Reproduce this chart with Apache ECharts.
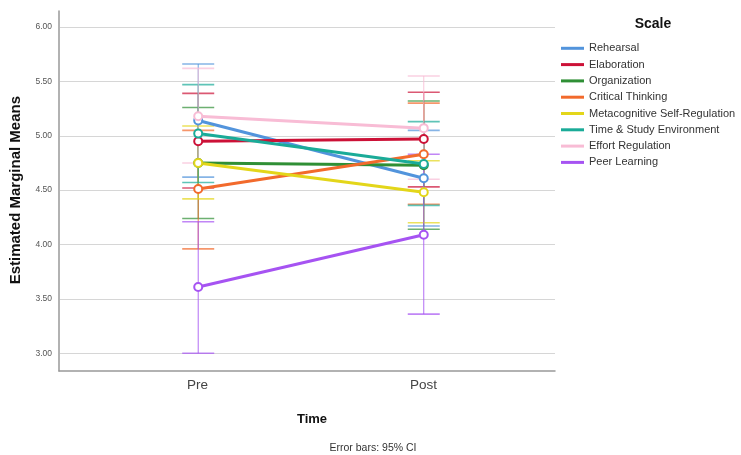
<!DOCTYPE html>
<html>
<head>
<meta charset="utf-8">
<script src="https://cdn.jsdelivr.net/npm/echarts@6/dist/echarts.min.js"></script>
<style>
  html, body { margin: 0; padding: 0; background: #fff; }
  #chart { width: 741px; height: 455px; }
</style>
</head>
<body>
<div id="chart"></div>
<script>
// Time points on the horizontal axis
const categories = ['Pre', 'Post'];

// MSLQ scales, one line per scale
const scales = [
  'Rehearsal',
  'Elaboration',
  'Organization',
  'Critical Thinking',
  'Metacognitive Self-Regulation',
  'Time & Study Environment',
  'Effort Regulation',
  'Peer Learning'
];

// Estimated marginal means
const preMean  = [5.14, 4.95, 4.75, 4.51, 4.75, 5.02, 5.18, 3.61];
const postMean = [4.61, 4.97, 4.73, 4.83, 4.48, 4.74, 5.07, 4.09];

// 95% confidence intervals
const preLow   = [4.62, 4.52, 4.24, 3.96, 4.42, 4.57, 4.75, 3.00];
const preHigh  = [5.66, 5.39, 5.26, 5.05, 5.09, 5.47, 5.62, 4.21];
const postLow  = [4.17, 4.53, 4.14, 4.37, 4.20, 4.36, 4.60, 3.36];
const postHigh = [5.05, 5.40, 5.32, 5.30, 4.77, 5.13, 5.55, 4.83];

// Y axis ticks
const yTicks = { min: 3, max: 6, step: 0.5 };

const palette = [
  '#5294dc', '#cc1137', '#2f8f35', '#f26a2c',
  '#e3d61a', '#1aab98', '#f8bcd5', '#a653f2'
];

const FONT = '"Liberation Sans", Arial, sans-serif';
const X_MIN = 0.3872, X_MAX = 2.5819;

const lineSeries = scales.map((name, i) => ({
  name,
  type: 'line',
  xAxisIndex: 0,
  yAxisIndex: 0,
  z: 3,
  data: [[1, preMean[i]], [2, postMean[i]]],
  symbol: 'emptyCircle',
  symbolSize: 8,
  lineStyle: { width: 3, color: palette[i] },
  itemStyle: { color: palette[i], borderWidth: 1.5 },
  emphasis: { disabled: true }
}));

const errorSeries = scales.map((name, i) => ({
  name,
  type: 'custom',
  xAxisIndex: 0,
  yAxisIndex: 0,
  z: 1,
  silent: true,
  itemStyle: { color: palette[i] },
  data: [[1, preLow[i], preHigh[i]], [2, postLow[i], postHigh[i]]],
  renderItem(params, api) {
    const x = api.value(0);
    const top = api.coord([x, api.value(2)]);
    const bot = api.coord([x, api.value(1)]);
    const half = 16;
    const c = palette[i];
    return {
      type: 'group',
      children: [
        { type: 'line', shape: { x1: top[0], y1: top[1], x2: bot[0], y2: bot[1] },
          style: { stroke: c, lineWidth: 1, opacity: 0.85 } },
        { type: 'line', shape: { x1: top[0] - half, y1: top[1], x2: top[0] + half, y2: top[1] },
          style: { stroke: c, lineWidth: 1.6, opacity: 0.7 } },
        { type: 'line', shape: { x1: bot[0] - half, y1: bot[1], x2: bot[0] + half, y2: bot[1] },
          style: { stroke: c, lineWidth: 1.6, opacity: 0.7 } }
      ]
    };
  }
}));

const chart = echarts.init(document.getElementById('chart'), null, { renderer: 'canvas' });

chart.setOption({
  backgroundColor: '#ffffff',
  animation: false,
  color: palette,
  textStyle: { fontFamily: FONT },
  grid: [
    // data area, spanning 3.00 .. 6.00
    { left: 59, width: 496, top: 27, height: 326.3 },
    // frame with the axis lines
    { left: 59, width: 496, top: 11, height: 360 }
  ],
  xAxis: [
    { gridIndex: 0, type: 'value', min: X_MIN, max: X_MAX, show: false },
    {
      gridIndex: 1, type: 'value', min: X_MIN, max: X_MAX,
      axisLine: { show: true, lineStyle: { color: '#999', width: 1.5 } },
      axisTick: { show: false },
      splitLine: { show: false },
      axisLabel: {
        customValues: [1, 2],
        formatter: v => categories[Math.round(v) - 1],
        fontSize: 13.5, color: '#444', margin: 7, fontFamily: FONT
      },
      name: 'Time',
      nameLocation: 'middle',
      nameGap: 42,
      nameTextStyle: { fontSize: 13, fontWeight: 'bold', color: '#111', padding: [0, 0, 0, 10], fontFamily: FONT }
    }
  ],
  yAxis: [
    {
      gridIndex: 0, type: 'value',
      min: yTicks.min, max: yTicks.max, interval: yTicks.step,
      axisLine: { show: false },
      axisTick: { show: false },
      splitLine: { show: true, lineStyle: { color: '#d6d6d6', width: 1.2 } },
      axisLabel: { formatter: v => v.toFixed(2), fontSize: 8.5, color: '#555', margin: 8, fontFamily: FONT },
      name: 'Estimated Marginal Means',
      nameLocation: 'middle',
      nameGap: 37,
      nameRotate: 90,
      nameTextStyle: { fontSize: 15, fontWeight: 'bold', color: '#111', fontFamily: FONT }
    },
    {
      gridIndex: 1, type: 'value', min: 0, max: 1,
      axisLine: { show: true, lineStyle: { color: '#999', width: 1.5 } },
      axisTick: { show: false },
      axisLabel: { show: false },
      splitLine: { show: false }
    }
  ],
  legend: {
    data: scales,
    orient: 'vertical',
    left: 561,
    top: 41.8,
    padding: 0,
    itemWidth: 23,
    itemHeight: 3,
    itemGap: 3.3,
    icon: 'rect',
    selectedMode: false,
    textStyle: { fontSize: 11, color: '#333', lineHeight: 13, fontFamily: FONT }
  },
  graphic: [
    {
      type: 'text', x: 653, y: 24,
      style: { text: 'Scale', font: 'bold 14px ' + FONT, fill: '#111', textAlign: 'center', textVerticalAlign: 'middle' }
    },
    {
      type: 'text', x: 373, y: 448,
      style: { text: 'Error bars: 95% CI', font: '10.5px ' + FONT, fill: '#333', textAlign: 'center', textVerticalAlign: 'middle' }
    }
  ],
  series: [...lineSeries, ...errorSeries]
});
</script>
</body>
</html>
